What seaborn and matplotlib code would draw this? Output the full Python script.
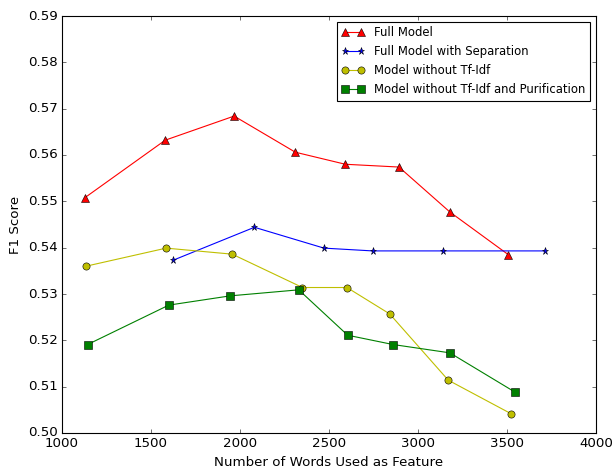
import matplotlib
matplotlib.use('Agg')
import matplotlib.pyplot as plt
from matplotlib.ticker import MultipleLocator, FormatStrFormatter
import seaborn as sb

# values
full_x = [1129, 1580, 1967, 2311, 2592, 2893, 3179, 3507]
full_y = [0.5508, 0.5632, 0.5684, 0.5606, 0.5580, 0.5574, 0.5477, 0.5385]

sep_x = [1625, 2081, 2472, 2745, 3140, 3712]
sep_y = [0.5373, 0.5444, 0.5399, 0.5393, 0.5393, 0.5393]

notfidf_x = [1135, 1585, 1956, 2351, 2601, 2841, 3170, 3521]
notfidf_y = [0.5360, 0.5399, 0.5386, 0.5314, 0.5314, 0.5257, 0.5114, 0.5042]

nopur_x = [1144, 1600, 1945, 2330, 2605, 2859, 3179, 3546]
nopur_y = [0.5191, 0.5276, 0.5296, 0.5309, 0.5211, 0.5191, 0.5173, 0.5088]

plt.style.use('classic')
plt.rcParams['figure.facecolor'] = 'white'

fig = plt.figure(figsize=(613 / 80, 469 / 80), dpi=80)
ax = fig.add_axes([62 / 613, 1 - 433 / 469, (596 - 62) / 613, (433 - 16) / 469])

mk = dict(markersize=6.5, markeredgecolor='k', markeredgewidth=0.5, sort=False)
sb.lineplot(x=full_x, y=full_y, ax=ax, color='r', marker='^', label='Full Model', **mk)
sb.lineplot(x=sep_x, y=sep_y, ax=ax, color='b', marker='*', label='Full Model with Separation', **mk)
sb.lineplot(x=notfidf_x, y=notfidf_y, ax=ax, color='y', marker='o', label='Model without Tf-Idf', **mk)
sb.lineplot(x=nopur_x, y=nopur_y, ax=ax, color='g', marker='s',
            label='Model without Tf-Idf and Purification', **mk)

ax.set_xlim(1000, 4000)
ax.set_ylim(0.50, 0.59)
ax.yaxis.set_major_locator(MultipleLocator(0.01))
ax.yaxis.set_major_formatter(FormatStrFormatter('%.2f'))
ax.set_xlabel('Number of Words Used as Feature', fontsize=12)
ax.set_ylabel('F1 Score', fontsize=12)
ax.legend(loc='upper right', fontsize=10.5, numpoints=2)

fig.savefig('out.png', dpi=80)
